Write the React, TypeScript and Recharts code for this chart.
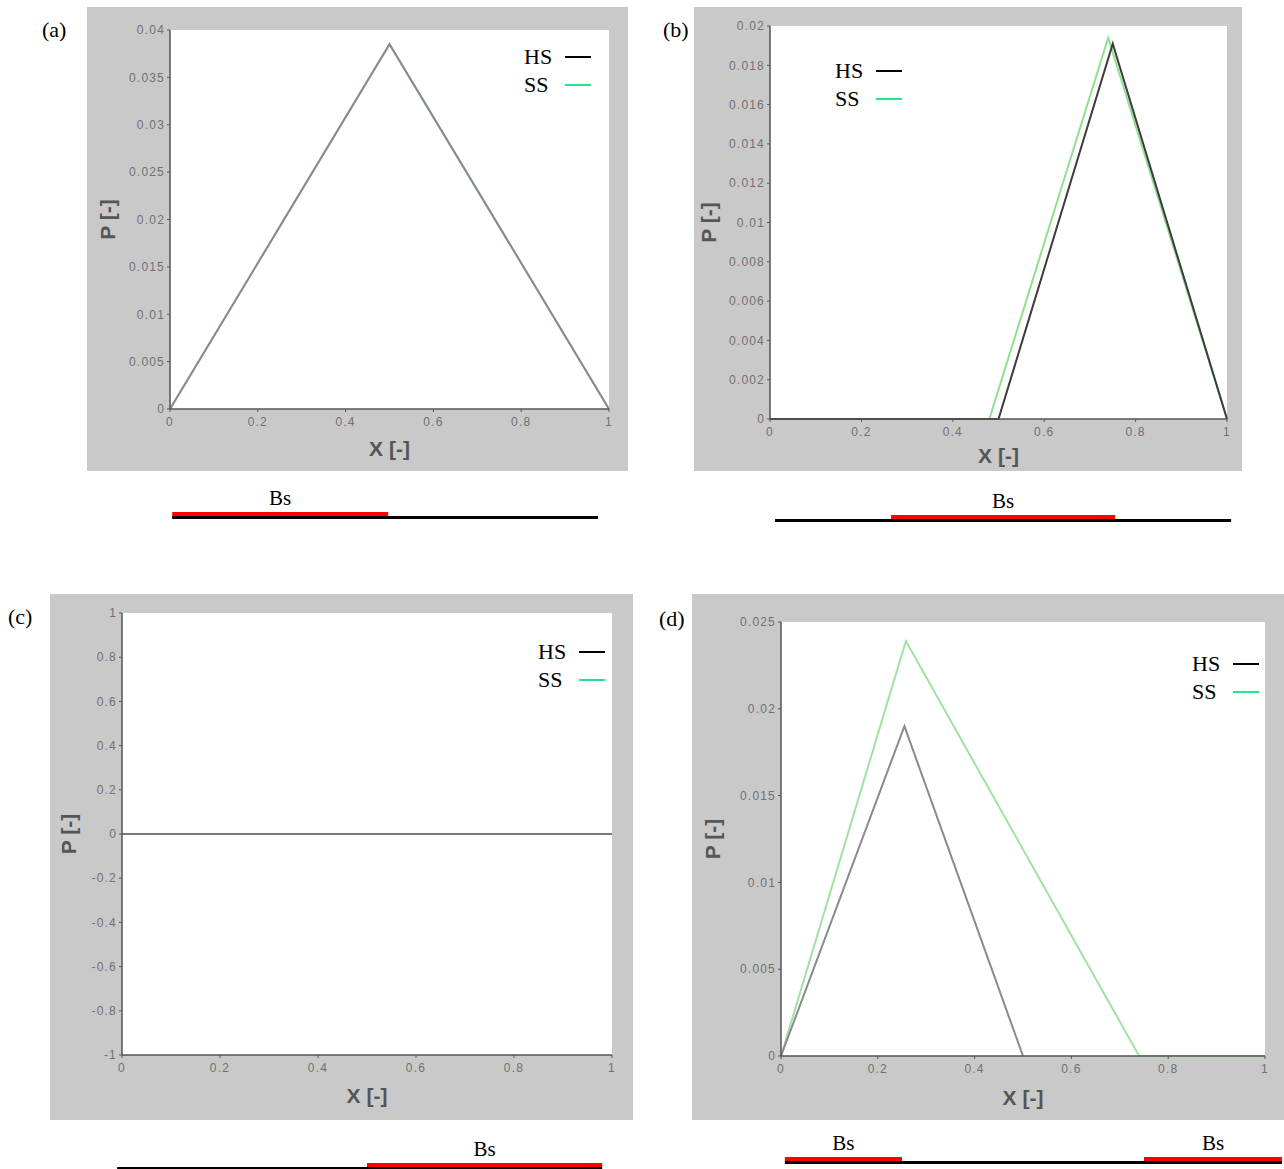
import { LineChart, Line, XAxis, YAxis, CartesianGrid, Legend, ReferenceArea } from 'recharts';

type Pt = { x: number; y: number };

// x positions along the beam, shared by all panels
const X_TICKS = [0, 0.2, 0.4, 0.6, 0.8, 1];

const SERIES_NAMES = ['HS', 'SS'];
const LEGEND_COLORS = ['#000000', '#1fe88c'];

// (a)
const Y_TICKS_A = [0, 0.005, 0.01, 0.015, 0.02, 0.025, 0.03, 0.035, 0.04];
const HS_A: Pt[] = [{ x: 0, y: 0 }, { x: 0.5, y: 0.0385 }, { x: 1, y: 0 }];
const SS_A: Pt[] = [{ x: 0, y: 0 }, { x: 0.5, y: 0.0385 }, { x: 1, y: 0 }];
const BS_BASE_A = [0.005, 0.975];
const BS_RED_A = [[0.005, 0.497]];

// (b)
const Y_TICKS_B = [0, 0.002, 0.004, 0.006, 0.008, 0.01, 0.012, 0.014, 0.016, 0.018, 0.02];
const HS_B: Pt[] = [{ x: 0, y: 0 }, { x: 0.5, y: 0 }, { x: 0.75, y: 0.0191 }, { x: 1, y: 0 }];
const SS_B: Pt[] = [{ x: 0, y: 0 }, { x: 0.48, y: 0 }, { x: 0.74, y: 0.0194 }, { x: 1, y: 0 }];
const BS_BASE_B = [0.011, 1.009];
const BS_RED_B = [[0.265, 0.755]];

// (c)
const Y_TICKS_C = [-1, -0.8, -0.6, -0.4, -0.2, 0, 0.2, 0.4, 0.6, 0.8, 1];
const HS_C: Pt[] = [{ x: 0, y: 0 }, { x: 1, y: 0 }];
const SS_C: Pt[] = [{ x: 0, y: 0 }, { x: 1, y: 0 }];
const BS_BASE_C = [-0.01, 0.98];
const BS_RED_C = [[0.5, 0.98]];

// (d)
const Y_TICKS_D = [0, 0.005, 0.01, 0.015, 0.02, 0.025];
const HS_D: Pt[] = [{ x: 0, y: 0 }, { x: 0.255, y: 0.019 }, { x: 0.5, y: 0 }];
const SS_D: Pt[] = [{ x: 0, y: 0 }, { x: 0.258, y: 0.0239 }, { x: 0.74, y: 0 }, { x: 1, y: 0 }];
const BS_BASE_D = [0.008, 1.035];
const BS_RED_D = [[0.008, 0.25], [0.75, 1.035]];

const SANS = '"Liberation Sans", Arial, sans-serif';
const SERIF = '"Liberation Serif", "Times New Roman", serif';
const GRAY_BG = '#c9c9c9';
const AXIS = '#555';
const YAXIS_W = 50;
const XAXIS_H = 30;
const STRIP_H = 40;

interface PanelCfg {
  tag: string;
  tagAt: [number, number];
  box: { left: number; top: number; w: number; h: number };
  plot: { left: number; top: number; right: number; bottom: number };
  yTicks: number[];
  hs: Pt[];
  ss: Pt[];
  hsColor: string;
  ssColor: string;
  legendAt: { left: number; top: number };
  xTitleDy: number;
  yTitleDx: number;
  stripTop: number;
  base: number[];
  red: number[][];
}

const PANELS: PanelCfg[] = [
  {
    tag: '(a)', tagAt: [42, 30],
    box: { left: 87, top: 7, w: 541, h: 464 },
    plot: { left: 83, top: 23, right: 19, bottom: 62 },
    yTicks: Y_TICKS_A, hs: HS_A, ss: SS_A, hsColor: '#8a8a8a', ssColor: '#9fe39f',
    legendAt: { left: 437, top: 36 }, xTitleDy: 39, yTitleDx: 63,
    stripTop: 479, base: BS_BASE_A, red: BS_RED_A,
  },
  {
    tag: '(b)', tagAt: [663, 30],
    box: { left: 694, top: 7, w: 548, h: 464 },
    plot: { left: 76, top: 19, right: 15, bottom: 52 },
    yTicks: Y_TICKS_B, hs: HS_B, ss: SS_B, hsColor: '#3c3c3c', ssColor: '#8fe08f',
    legendAt: { left: 141, top: 50 }, xTitleDy: 36, yTitleDx: 62,
    stripTop: 482, base: BS_BASE_B, red: BS_RED_B,
  },
  {
    tag: '(c)', tagAt: [8, 617],
    box: { left: 50, top: 594, w: 583, h: 526 },
    plot: { left: 72, top: 19, right: 21, bottom: 65 },
    yTicks: Y_TICKS_C, hs: HS_C, ss: SS_C, hsColor: '#7a7a7a', ssColor: '#9fe39f',
    legendAt: { left: 488, top: 44 }, xTitleDy: 40, yTitleDx: 54,
    stripTop: 1130, base: BS_BASE_C, red: BS_RED_C,
  },
  {
    tag: '(d)', tagAt: [659, 619],
    box: { left: 692, top: 594, w: 592, h: 526 },
    plot: { left: 89, top: 28, right: 19, bottom: 64 },
    yTicks: Y_TICKS_D, hs: HS_D, ss: SS_D, hsColor: '#8a8a8a', ssColor: '#9fe39f',
    legendAt: { left: 500, top: 56 }, xTitleDy: 41, yTitleDx: 69,
    stripTop: 1124, base: BS_BASE_D, red: BS_RED_D,
  },
];

const titleStyle = { fontFamily: SANS, fontWeight: 700, fontSize: 21, fill: AXIS };
const tickStyle = { fill: '#707070', fontSize: 12, fontFamily: SANS, letterSpacing: 1.2 };

const xTitle = (dy: number) => (props: any) => {
  const vb = props.viewBox;
  return (
    <text x={vb.x + vb.width / 2} y={vb.y + dy} textAnchor="middle" dominantBaseline="central" style={titleStyle}>
      X [-]
    </text>
  );
};

const yTitle = (dx: number) => (props: any) => {
  const vb = props.viewBox;
  const cx = vb.x + vb.width - dx;
  const cy = vb.y + vb.height / 2;
  return (
    <text x={cx} y={cy} transform={`rotate(-90 ${cx} ${cy})`} textAnchor="middle" dominantBaseline="central" style={titleStyle}>
      P [-]
    </text>
  );
};

const legendContent = () => (
  <div style={{ fontFamily: SERIF, fontSize: 22, lineHeight: '28px', color: '#000' }}>
    {SERIES_NAMES.map((n, i) => (
      <div key={n} style={{ display: 'flex', alignItems: 'center' }}>
        <span style={{ width: 41 }}>{n}</span>
        <span style={{ width: 26, height: 2, background: LEGEND_COLORS[i] }} />
      </div>
    ))}
  </div>
);

function Panel({ p }: { p: PanelCfg }) {
  const margin = {
    top: p.plot.top,
    right: p.plot.right,
    bottom: p.plot.bottom - XAXIS_H,
    left: p.plot.left - YAXIS_W,
  };
  const yDomain = [p.yTicks[0], p.yTicks[p.yTicks.length - 1]];
  return (
    <>
      <div style={{ position: 'absolute', left: p.tagAt[0], top: p.tagAt[1] - 11, fontFamily: SERIF, fontSize: 22, lineHeight: '22px' }}>
        {p.tag}
      </div>
      <div style={{ position: 'absolute', left: p.box.left, top: p.box.top, width: p.box.w, height: p.box.h, background: GRAY_BG }}>
        <LineChart width={p.box.w} height={p.box.h} margin={margin}>
          <CartesianGrid horizontal={false} vertical={false} fill="#ffffff" />
          <XAxis
            type="number"
            dataKey="x"
            domain={[0, 1]}
            ticks={X_TICKS}
            tickFormatter={(v) => String(v)}
            height={XAXIS_H}
            axisLine={{ stroke: AXIS, strokeWidth: 1.5 }}
            tickLine={{ stroke: AXIS }}
            tickSize={3}
            tickMargin={5}
            tick={tickStyle}
            interval={0}
            label={{ content: xTitle(p.xTitleDy) }}
          />
          <YAxis
            type="number"
            domain={yDomain}
            ticks={p.yTicks}
            tickFormatter={(v) => String(v)}
            width={YAXIS_W}
            axisLine={{ stroke: AXIS, strokeWidth: 1.5 }}
            tickLine={{ stroke: AXIS }}
            tickSize={3}
            tickMargin={2}
            tick={tickStyle}
            interval={0}
            label={{ content: yTitle(p.yTitleDx) }}
          />
          <Line data={p.ss} dataKey="y" name="SS" stroke={p.ssColor} strokeWidth={2} dot={false} isAnimationActive={false} />
          <Line data={p.hs} dataKey="y" name="HS" stroke={p.hsColor} strokeWidth={2} dot={false} isAnimationActive={false} />
          <Legend
            layout="horizontal"
            align="center"
            verticalAlign="middle"
            content={legendContent}
            wrapperStyle={{ left: p.legendAt.left, top: p.legendAt.top, width: 'auto' }}
          />
        </LineChart>
      </div>
      <div style={{ position: 'absolute', left: p.box.left, top: p.stripTop }}>
        <LineChart width={p.box.w} height={STRIP_H} margin={{ top: 0, bottom: 0, left: p.plot.left, right: p.plot.right }}>
          <XAxis type="number" dataKey="x" domain={[0, 1]} hide allowDataOverflow />
          <YAxis type="number" domain={[0, STRIP_H]} hide allowDataOverflow />
          <ReferenceArea x1={p.base[0]} x2={p.base[1]} y1={0} y2={3} fill="#000" fillOpacity={1} ifOverflow="visible" />
          {p.red.map(([a, b], i) => (
            <ReferenceArea
              key={i}
              x1={a}
              x2={b}
              y1={3}
              y2={7}
              fill="#ff0000"
              fillOpacity={1}
              ifOverflow="visible"
              label={{ value: 'Bs', position: 'top', offset: 7, fill: '#000', fontSize: 21, fontFamily: SERIF }}
            />
          ))}
        </LineChart>
      </div>
    </>
  );
}

export default function App() {
  return (
    <div style={{ position: 'absolute', left: 0, top: 0, width: 1284, height: 1169, background: '#fff', overflow: 'hidden' }}>
      {PANELS.map((p) => (
        <Panel key={p.tag} p={p} />
      ))}
    </div>
  );
}
